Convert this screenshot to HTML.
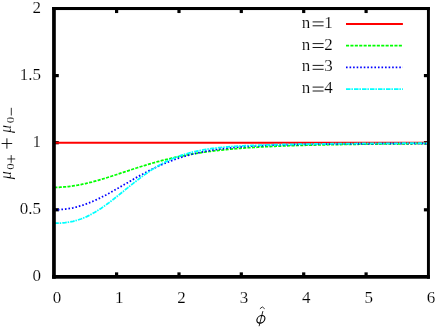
<!DOCTYPE html>
<html><head><meta charset="utf-8"><title>plot</title>
<style>
html,body{margin:0;padding:0;background:#fff;}
svg{display:block;font-family:"Liberation Serif",serif;font-size:17px;fill:#000;}
text{stroke:#fff;stroke-width:0.16px;}
</style></head><body>
<svg width="436" height="328" viewBox="0 0 436 328">
<defs><filter id="gs" x="0" y="0" width="436" height="328" filterUnits="userSpaceOnUse" color-interpolation-filters="sRGB"><feColorMatrix type="saturate" values="0"/></filter></defs>
<rect x="0" y="0" width="436" height="328" fill="#fff"/>
<g stroke="#000" stroke-width="3.2" fill="none">
<line x1="116.6" y1="276.85" x2="116.6" y2="272.35"/>
<line x1="116.6" y1="8.55" x2="116.6" y2="13.05"/>
<line x1="179.0" y1="276.85" x2="179.0" y2="272.35"/>
<line x1="179.0" y1="8.55" x2="179.0" y2="13.05"/>
<line x1="241.3" y1="276.85" x2="241.3" y2="272.35"/>
<line x1="241.3" y1="8.55" x2="241.3" y2="13.05"/>
<line x1="303.7" y1="276.85" x2="303.7" y2="272.35"/>
<line x1="303.7" y1="8.55" x2="303.7" y2="13.05"/>
<line x1="366.1" y1="276.85" x2="366.1" y2="272.35"/>
<line x1="366.1" y1="8.55" x2="366.1" y2="13.05"/>
<line x1="54.3" y1="209.8" x2="58.8" y2="209.8"/>
<line x1="428.4" y1="209.8" x2="423.9" y2="209.8"/>
<line x1="54.3" y1="142.7" x2="58.8" y2="142.7"/>
<line x1="428.4" y1="142.7" x2="423.9" y2="142.7"/>
<line x1="54.3" y1="75.6" x2="58.8" y2="75.6"/>
<line x1="428.4" y1="75.6" x2="423.9" y2="75.6"/>
</g>
<g fill="none" stroke-width="1.75">
<path d="M54.3,142.7 L428.4,142.7" stroke="#ff0000" stroke-width="2.0"/>
<path d="M54.3,187.42 L55.9,187.39 L57.4,187.35 L59.0,187.28 L60.6,187.20 L62.1,187.10 L63.7,186.98 L65.3,186.84 L66.8,186.68 L68.4,186.51 L70.0,186.32 L71.5,186.12 L73.1,185.89 L74.6,185.65 L76.2,185.40 L77.8,185.13 L79.3,184.84 L80.9,184.54 L82.5,184.22 L84.0,183.89 L85.6,183.54 L87.2,183.18 L88.7,182.81 L90.3,182.42 L91.9,182.03 L93.4,181.62 L95.0,181.20 L96.6,180.76 L98.1,180.32 L99.7,179.87 L101.3,179.41 L102.8,178.94 L104.4,178.47 L106.0,177.99 L107.5,177.50 L109.1,177.00 L110.6,176.50 L112.2,175.99 L113.8,175.49 L115.3,174.97 L116.9,174.46 L118.5,173.94 L120.0,173.42 L121.6,172.90 L123.2,172.38 L124.7,171.86 L126.3,171.34 L127.9,170.82 L129.4,170.30 L131.0,169.79 L132.6,169.27 L134.1,168.76 L135.7,168.26 L137.3,167.76 L138.8,167.26 L140.4,166.76 L142.0,166.27 L143.5,165.79 L145.1,165.31 L146.7,164.84 L148.2,164.37 L149.8,163.91 L151.3,163.45 L152.9,163.00 L154.5,162.56 L156.0,162.13 L157.6,161.70 L159.2,161.28 L160.7,160.86 L162.3,160.45 L163.9,160.05 L165.4,159.66 L167.0,159.28 L168.6,158.90 L170.1,158.53 L171.7,158.17 L173.3,157.81 L174.8,157.46 L176.4,157.12 L178.0,156.79 L179.5,156.46 L181.1,156.14 L182.7,155.83 L184.2,155.52 L185.8,155.22 L187.3,154.93 L188.9,154.64 L190.5,154.37 L192.0,154.09 L193.6,153.83 L195.2,153.57 L196.7,153.32 L198.3,153.07 L199.9,152.83 L201.4,152.59 L203.0,152.36 L204.6,152.14 L206.1,151.92 L207.7,151.71 L209.3,151.50 L210.8,151.30 L212.4,151.11 L214.0,150.91 L215.5,150.73 L217.1,150.55 L218.7,150.37 L220.2,150.20 L221.8,150.03 L223.3,149.86 L224.9,149.70 L226.5,149.55 L228.0,149.40 L229.6,149.25 L231.2,149.11 L232.7,148.97 L234.3,148.83 L235.9,148.70 L237.4,148.57 L239.0,148.44 L240.6,148.32 L242.1,148.20 L243.7,148.08 L245.3,147.97 L246.8,147.86 L248.4,147.75 L250.0,147.65 L251.5,147.55 L253.1,147.45 L254.7,147.35 L256.2,147.26 L257.8,147.17 L259.4,147.08 L260.9,146.99 L262.5,146.90 L264.0,146.82 L265.6,146.74 L267.2,146.66 L268.7,146.59 L270.3,146.51 L271.9,146.44 L273.4,146.37 L275.0,146.30 L276.6,146.23 L278.1,146.17 L279.7,146.10 L281.3,146.04 L282.8,145.98 L284.4,145.92 L286.0,145.86 L287.5,145.81 L289.1,145.75 L290.7,145.70 L292.2,145.64 L293.8,145.59 L295.4,145.54 L296.9,145.49 L298.5,145.45 L300.0,145.40 L301.6,145.36 L303.2,145.31 L304.7,145.27 L306.3,145.23 L307.9,145.18 L309.4,145.14 L311.0,145.11 L312.6,145.07 L314.1,145.03 L315.7,144.99 L317.3,144.96 L318.8,144.92 L320.4,144.89 L322.0,144.85 L323.5,144.82 L325.1,144.79 L326.7,144.76 L328.2,144.73 L329.8,144.70 L331.4,144.67 L332.9,144.64 L334.5,144.61 L336.0,144.59 L337.6,144.56 L339.2,144.53 L340.7,144.51 L342.3,144.48 L343.9,144.46 L345.4,144.43 L347.0,144.41 L348.6,144.39 L350.1,144.37 L351.7,144.34 L353.3,144.32 L354.8,144.30 L356.4,144.28 L358.0,144.26 L359.5,144.24 L361.1,144.22 L362.7,144.20 L364.2,144.18 L365.8,144.16 L367.4,144.15 L368.9,144.13 L370.5,144.11 L372.1,144.09 L373.6,144.08 L375.2,144.06 L376.7,144.05 L378.3,144.03 L379.9,144.01 L381.4,144.00 L383.0,143.98 L384.6,143.97 L386.1,143.96 L387.7,143.94 L389.3,143.93 L390.8,143.91 L392.4,143.90 L394.0,143.89 L395.5,143.88 L397.1,143.86 L398.7,143.85 L400.2,143.84 L401.8,143.83 L403.4,143.81 L404.9,143.80 L406.5,143.79 L408.1,143.78 L409.6,143.77 L411.2,143.76 L412.7,143.75 L414.3,143.74 L415.9,143.73 L417.4,143.72 L419.0,143.71 L420.6,143.70 L422.1,143.69 L423.7,143.68 L425.3,143.67 L426.8,143.66 L428.4,143.65" stroke="#00ff00" stroke-dasharray="3.1 1.3"/>
<path d="M54.3,209.78 L55.9,209.76 L57.4,209.71 L59.0,209.65 L60.6,209.55 L62.1,209.43 L63.7,209.28 L65.3,209.10 L66.8,208.90 L68.4,208.66 L70.0,208.40 L71.5,208.11 L73.1,207.79 L74.6,207.44 L76.2,207.06 L77.8,206.65 L79.3,206.21 L80.9,205.75 L82.5,205.26 L84.0,204.73 L85.6,204.19 L87.2,203.61 L88.7,203.01 L90.3,202.39 L91.9,201.74 L93.4,201.07 L95.0,200.37 L96.6,199.66 L98.1,198.92 L99.7,198.16 L101.3,197.39 L102.8,196.60 L104.4,195.79 L106.0,194.96 L107.5,194.12 L109.1,193.27 L110.6,192.41 L112.2,191.53 L113.8,190.65 L115.3,189.75 L116.9,188.86 L118.5,187.95 L120.0,187.04 L121.6,186.13 L123.2,185.21 L124.7,184.30 L126.3,183.38 L127.9,182.47 L129.4,181.56 L131.0,180.65 L132.6,179.74 L134.1,178.84 L135.7,177.95 L137.3,177.06 L138.8,176.18 L140.4,175.32 L142.0,174.46 L143.5,173.61 L145.1,172.77 L146.7,171.94 L148.2,171.12 L149.8,170.32 L151.3,169.53 L152.9,168.76 L154.5,167.99 L156.0,167.25 L157.6,166.51 L159.2,165.80 L160.7,165.09 L162.3,164.40 L163.9,163.73 L165.4,163.08 L167.0,162.43 L168.6,161.81 L170.1,161.20 L171.7,160.61 L173.3,160.03 L174.8,159.47 L176.4,158.92 L178.0,158.39 L179.5,157.87 L181.1,157.37 L182.7,156.88 L184.2,156.41 L185.8,155.95 L187.3,155.51 L188.9,155.08 L190.5,154.67 L192.0,154.26 L193.6,153.88 L195.2,153.50 L196.7,153.14 L198.3,152.79 L199.9,152.45 L201.4,152.12 L203.0,151.81 L204.6,151.50 L206.1,151.21 L207.7,150.93 L209.3,150.66 L210.8,150.39 L212.4,150.14 L214.0,149.90 L215.5,149.66 L217.1,149.44 L218.7,149.22 L220.2,149.01 L221.8,148.81 L223.3,148.62 L224.9,148.43 L226.5,148.25 L228.0,148.08 L229.6,147.92 L231.2,147.76 L232.7,147.61 L234.3,147.46 L235.9,147.32 L237.4,147.18 L239.0,147.05 L240.6,146.93 L242.1,146.81 L243.7,146.69 L245.3,146.58 L246.8,146.48 L248.4,146.37 L250.0,146.28 L251.5,146.18 L253.1,146.09 L254.7,146.00 L256.2,145.92 L257.8,145.84 L259.4,145.76 L260.9,145.69 L262.5,145.62 L264.0,145.55 L265.6,145.48 L267.2,145.42 L268.7,145.36 L270.3,145.30 L271.9,145.24 L273.4,145.19 L275.0,145.13 L276.6,145.08 L278.1,145.03 L279.7,144.99 L281.3,144.94 L282.8,144.90 L284.4,144.86 L286.0,144.82 L287.5,144.78 L289.1,144.74 L290.7,144.70 L292.2,144.67 L293.8,144.63 L295.4,144.60 L296.9,144.57 L298.5,144.54 L300.0,144.51 L301.6,144.48 L303.2,144.45 L304.7,144.43 L306.3,144.40 L307.9,144.38 L309.4,144.35 L311.0,144.33 L312.6,144.31 L314.1,144.28 L315.7,144.26 L317.3,144.24 L318.8,144.22 L320.4,144.20 L322.0,144.18 L323.5,144.16 L325.1,144.15 L326.7,144.13 L328.2,144.11 L329.8,144.09 L331.4,144.08 L332.9,144.06 L334.5,144.05 L336.0,144.03 L337.6,144.02 L339.2,144.00 L340.7,143.99 L342.3,143.98 L343.9,143.96 L345.4,143.95 L347.0,143.94 L348.6,143.93 L350.1,143.91 L351.7,143.90 L353.3,143.89 L354.8,143.88 L356.4,143.87 L358.0,143.86 L359.5,143.85 L361.1,143.84 L362.7,143.83 L364.2,143.82 L365.8,143.81 L367.4,143.80 L368.9,143.79 L370.5,143.78 L372.1,143.77 L373.6,143.76 L375.2,143.75 L376.7,143.74 L378.3,143.73 L379.9,143.73 L381.4,143.72 L383.0,143.71 L384.6,143.70 L386.1,143.69 L387.7,143.69 L389.3,143.68 L390.8,143.67 L392.4,143.66 L394.0,143.66 L395.5,143.65 L397.1,143.64 L398.7,143.64 L400.2,143.63 L401.8,143.62 L403.4,143.62 L404.9,143.61 L406.5,143.60 L408.1,143.60 L409.6,143.59 L411.2,143.59 L412.7,143.58 L414.3,143.57 L415.9,143.57 L417.4,143.56 L419.0,143.56 L420.6,143.55 L422.1,143.54 L423.7,143.54 L425.3,143.53 L426.8,143.53 L428.4,143.52" stroke="#0000ff" stroke-dasharray="1.6 1.95"/>
<path d="M54.3,223.19 L55.9,223.18 L57.4,223.16 L59.0,223.12 L60.6,223.05 L62.1,222.95 L63.7,222.82 L65.3,222.66 L66.8,222.47 L68.4,222.24 L70.0,221.97 L71.5,221.66 L73.1,221.32 L74.6,220.93 L76.2,220.50 L77.8,220.04 L79.3,219.53 L80.9,218.98 L82.5,218.38 L84.0,217.75 L85.6,217.08 L87.2,216.36 L88.7,215.61 L90.3,214.81 L91.9,213.98 L93.4,213.11 L95.0,212.20 L96.6,211.26 L98.1,210.28 L99.7,209.27 L101.3,208.23 L102.8,207.16 L104.4,206.07 L106.0,204.95 L107.5,203.80 L109.1,202.63 L110.6,201.45 L112.2,200.24 L113.8,199.02 L115.3,197.78 L116.9,196.54 L118.5,195.28 L120.0,194.02 L121.6,192.75 L123.2,191.48 L124.7,190.20 L126.3,188.93 L127.9,187.66 L129.4,186.40 L131.0,185.14 L132.6,183.89 L134.1,182.65 L135.7,181.43 L137.3,180.21 L138.8,179.01 L140.4,177.83 L142.0,176.67 L143.5,175.53 L145.1,174.40 L146.7,173.30 L148.2,172.22 L149.8,171.16 L151.3,170.13 L152.9,169.12 L154.5,168.14 L156.0,167.18 L157.6,166.25 L159.2,165.35 L160.7,164.47 L162.3,163.62 L163.9,162.79 L165.4,162.00 L167.0,161.23 L168.6,160.48 L170.1,159.76 L171.7,159.07 L173.3,158.40 L174.8,157.76 L176.4,157.15 L178.0,156.56 L179.5,155.99 L181.1,155.44 L182.7,154.92 L184.2,154.42 L185.8,153.94 L187.3,153.48 L188.9,153.05 L190.5,152.63 L192.0,152.23 L193.6,151.85 L195.2,151.49 L196.7,151.14 L198.3,150.81 L199.9,150.50 L201.4,150.20 L203.0,149.91 L204.6,149.64 L206.1,149.38 L207.7,149.14 L209.3,148.90 L210.8,148.68 L212.4,148.47 L214.0,148.27 L215.5,148.08 L217.1,147.89 L218.7,147.72 L220.2,147.56 L221.8,147.40 L223.3,147.25 L224.9,147.10 L226.5,146.97 L228.0,146.84 L229.6,146.71 L231.2,146.60 L232.7,146.48 L234.3,146.38 L235.9,146.27 L237.4,146.17 L239.0,146.08 L240.6,145.99 L242.1,145.90 L243.7,145.82 L245.3,145.74 L246.8,145.66 L248.4,145.59 L250.0,145.52 L251.5,145.45 L253.1,145.39 L254.7,145.32 L256.2,145.26 L257.8,145.20 L259.4,145.15 L260.9,145.09 L262.5,145.04 L264.0,144.99 L265.6,144.94 L267.2,144.89 L268.7,144.85 L270.3,144.80 L271.9,144.76 L273.4,144.72 L275.0,144.68 L276.6,144.64 L278.1,144.60 L279.7,144.56 L281.3,144.52 L282.8,144.49 L284.4,144.45 L286.0,144.42 L287.5,144.39 L289.1,144.36 L290.7,144.32 L292.2,144.29 L293.8,144.26 L295.4,144.24 L296.9,144.21 L298.5,144.18 L300.0,144.15 L301.6,144.13 L303.2,144.10 L304.7,144.08 L306.3,144.05 L307.9,144.03 L309.4,144.01 L311.0,143.98 L312.6,143.96 L314.1,143.94 L315.7,143.92 L317.3,143.90 L318.8,143.88 L320.4,143.86 L322.0,143.84 L323.5,143.82 L325.1,143.80 L326.7,143.78 L328.2,143.77 L329.8,143.75 L331.4,143.73 L332.9,143.72 L334.5,143.70 L336.0,143.68 L337.6,143.67 L339.2,143.65 L340.7,143.64 L342.3,143.62 L343.9,143.61 L345.4,143.59 L347.0,143.58 L348.6,143.57 L350.1,143.55 L351.7,143.54 L353.3,143.53 L354.8,143.52 L356.4,143.50 L358.0,143.49 L359.5,143.48 L361.1,143.47 L362.7,143.46 L364.2,143.45 L365.8,143.43 L367.4,143.42 L368.9,143.41 L370.5,143.40 L372.1,143.39 L373.6,143.38 L375.2,143.37 L376.7,143.36 L378.3,143.35 L379.9,143.34 L381.4,143.34 L383.0,143.33 L384.6,143.32 L386.1,143.31 L387.7,143.30 L389.3,143.29 L390.8,143.28 L392.4,143.28 L394.0,143.27 L395.5,143.26 L397.1,143.25 L398.7,143.25 L400.2,143.24 L401.8,143.23 L403.4,143.22 L404.9,143.22 L406.5,143.21 L408.1,143.20 L409.6,143.20 L411.2,143.19 L412.7,143.18 L414.3,143.18 L415.9,143.17 L417.4,143.17 L419.0,143.16 L420.6,143.15 L422.1,143.15 L423.7,143.14 L425.3,143.14 L426.8,143.13 L428.4,143.13" stroke="#00ffff" stroke-dasharray="4.5 0.9 1.5 1.1"/>
</g>
<g fill="#000" stroke="none">
<rect x="52.1" y="7.0" width="377.8" height="3.05"/>
<rect x="52.1" y="7.0" width="3.7" height="271.7"/>
<rect x="52.1" y="275.0" width="377.8" height="3.7"/>
<rect x="426.95" y="7.0" width="2.95" height="271.7"/>
</g>
<g filter="url(#gs)">
<text x="56.9" y="303.4" text-anchor="middle">0</text>
<text x="119.2" y="303.4" text-anchor="middle">1</text>
<text x="181.6" y="303.4" text-anchor="middle">2</text>
<text x="243.9" y="303.4" text-anchor="middle">3</text>
<text x="306.3" y="303.4" text-anchor="middle">4</text>
<text x="368.7" y="303.4" text-anchor="middle">5</text>
<text x="431.0" y="303.4" text-anchor="middle">6</text>
<text x="41" y="280.9" text-anchor="end">0</text>
<text x="41" y="213.8" text-anchor="end">0.5</text>
<text x="41" y="146.7" text-anchor="end">1</text>
<text x="41" y="79.6" text-anchor="end">1.5</text>
<text x="41" y="12.6" text-anchor="end">2</text>
<text x="301.8" y="27.8">n</text><text x="324.3" y="27.8">1</text>
<path d="M312.6,21.9 H323.6 M312.6,25.8 H323.6" stroke="#000" stroke-width="0.9" fill="none"/>
<text x="301.8" y="49.5">n</text><text x="324.3" y="49.5">2</text>
<path d="M312.6,43.6 H323.6 M312.6,47.5 H323.6" stroke="#000" stroke-width="0.9" fill="none"/>
<text x="301.8" y="71.3">n</text><text x="324.3" y="71.3">3</text>
<path d="M312.6,65.4 H323.6 M312.6,69.3 H323.6" stroke="#000" stroke-width="0.9" fill="none"/>
<text x="301.8" y="93.0">n</text><text x="324.3" y="93.0">4</text>
<path d="M312.6,87.1 H323.6 M312.6,91.0 H323.6" stroke="#000" stroke-width="0.9" fill="none"/>
</g>
<g fill="none">
<line x1="346" y1="23.9" x2="402.9" y2="23.9" stroke="#ff0000" stroke-width="2.0"/>
<line x1="346" y1="45.6" x2="402.9" y2="45.6" stroke="#00ff00" stroke-width="1.75" stroke-dasharray="3.1 1.3"/>
<line x1="346" y1="67.4" x2="402.9" y2="67.4" stroke="#0000ff" stroke-width="1.75" stroke-dasharray="1.6 1.95"/>
<line x1="346" y1="89.1" x2="402.9" y2="89.1" stroke="#00ffff" stroke-width="1.75" stroke-dasharray="4.5 0.9 1.5 1.1"/>
</g>
<g filter="url(#gs)"><g transform="translate(11.3,179.3) rotate(-90)">
<text x="0" y="0" font-style="italic" font-size="16px">μ</text>
<text x="9.6" y="3.1" font-size="10px" textLength="6.4" lengthAdjust="spacingAndGlyphs">0</text>
<text x="46.4" y="0" font-style="italic" font-size="16px">μ</text>
<text x="56.0" y="3.1" font-size="10px" textLength="6.4" lengthAdjust="spacingAndGlyphs">0</text>
<path d="M16.5,-0.1 H24.2 M20.35,-4.0 V3.9 M63.8,0 H71.5" stroke="#000" stroke-width="0.8" fill="none"/>
<path d="M30.6,-4.4 H41.0 M35.8,-9.7 V0.9" stroke="#000" stroke-width="0.9" fill="none"/>
</g></g>
<g>
<g transform="translate(260.9,319.3) skewX(-14)"><ellipse cx="0" cy="0" rx="3.9" ry="3.8" fill="none" stroke="#000" stroke-width="1.15"/></g>
<path d="M262.9,311.1 L259.1,326.2" fill="none" stroke="#000" stroke-width="0.85"/>
<path d="M259.9,308.8 L262.3,306.9 L264.7,308.8" fill="none" stroke="#000" stroke-width="0.8"/>
</g>
</svg>
</body></html>
